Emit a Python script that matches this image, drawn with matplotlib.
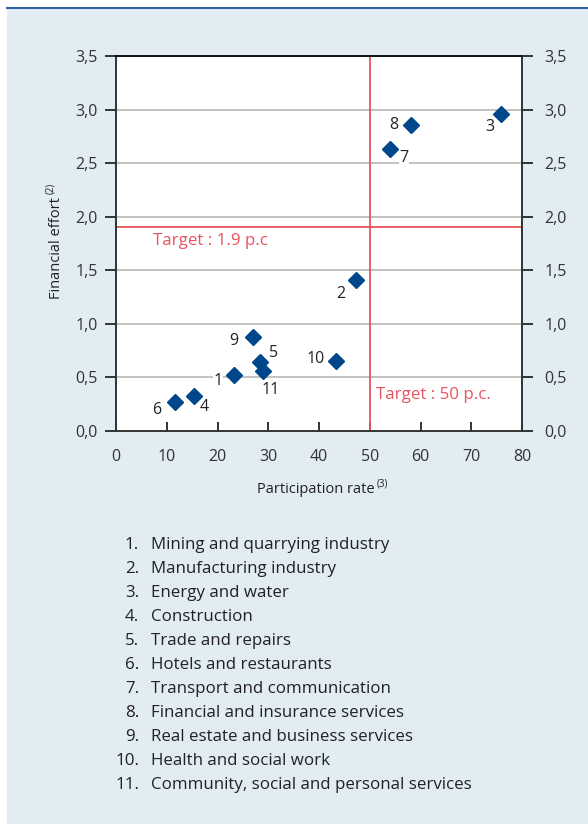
import matplotlib.pyplot as plt
from matplotlib.patches import Rectangle
from matplotlib.lines import Line2D

plt.rcParams['font.family'] = ['Open Sans', 'DejaVu Sans']

# sectors: participation rate (%) vs financial effort (%)
sector_ids = ['1', '2', '3', '4', '5', '6', '7', '8', '9', '10', '11']
participation = [23.3, 47.2, 75.9, 15.4, 28.4, 11.7, 54.0, 58.1, 26.9, 43.3, 29.0]
effort = [0.52, 1.41, 2.96, 0.33, 0.64, 0.27, 2.63, 2.86, 0.88, 0.65, 0.56]
sector_names = ['Mining and quarrying industry', 'Manufacturing industry',
                'Energy and water', 'Construction', 'Trade and repairs',
                'Hotels and restaurants', 'Transport and communication',
                'Financial and insurance services', 'Real estate and business services',
                'Health and social work', 'Community, social and personal services']
target_effort = 1.9
target_participation = 50

# label offsets in pixels (dx, dy)
label_offsets = [(-16, -6), (-15, -14), (-11, -13), (10, -11), (13, 9), (-19, -8),
                 (14, -9), (-17, 0), (-19, -4), (-20, 2), (7, -19)]

fig = plt.figure(figsize=(5.88, 8.24), dpi=100)
fig.patch.set_facecolor('white')
fig.patches.append(Rectangle((7 / 588, 0), 1, 815 / 824, transform=fig.transFigure,
                             facecolor='#E1ECF3', edgecolor='none', zorder=-2))
fig.lines.append(Line2D([7 / 588, 1], [816 / 824, 816 / 824], transform=fig.transFigure,
                        color='#2F62A0', lw=1.5, zorder=-1))

ax = fig.add_axes([116 / 588, 1 - 431 / 824, 406 / 588, 375 / 824])
ax.set_facecolor('white')
ax.set_xlim(0, 80)
ax.set_ylim(0, 3.5)

yt = [0, 0.5, 1, 1.5, 2, 2.5, 3, 3.5]
ylabels = [('%.1f' % v).replace('.', ',') for v in yt]
ax.set_yticks(yt)
ax.set_yticklabels(ylabels)
ax.set_xticks(range(0, 90, 10))
for v in yt[1:-1]:
    ax.axhline(v, color='#BDBDBD', lw=1.3, zorder=1)

ax.tick_params(axis='y', direction='out', length=8, width=1.4, color='#333333',
               labelsize=11.5, labelcolor='#333333', pad=5)
ax.tick_params(axis='x', direction='in', length=6.5, width=1.4, color='#333333',
               labelsize=11.5, labelcolor='#333333', pad=13)
for s in ax.spines.values():
    s.set_color('#333333')
    s.set_linewidth(1.4)
ax.spines['top'].set_color('#111111')

# right-hand axis copy
ax2 = ax.twinx()
ax2.set_ylim(0, 3.5)
ax2.set_yticks(yt)
ax2.set_yticklabels(ylabels)
ax2.tick_params(axis='y', direction='out', length=8, width=1.4, color='#333333',
                labelsize=11.5, labelcolor='#333333', pad=8)
for s in ax2.spines.values():
    s.set_visible(False)

ax.axhline(target_effort, color='#E8535E', lw=1.3, zorder=2)
ax.axvline(target_participation, color='#E8535E', lw=1.3, zorder=2)
ax.text(7.3, 1.775, 'Target : 1.9 p.c', color='#E8535E', fontsize=12.2, va='center', ha='left')
ax.text(51.2, 0.34, 'Target : 50 p.c.', color='#E8535E', fontsize=12.2, va='center', ha='left')

ax.plot(participation, effort, 'D', color='#00468B', markersize=7.8, zorder=4, ls='none')
for sid, px, py, off in zip(sector_ids, participation, effort, label_offsets):
    ax.annotate(sid, (px, py), xytext=(off[0], off[1]), textcoords='offset pixels',
                ha='center', va='center', fontsize=11.5, color='#222222', zorder=3,
                bbox=dict(facecolor='white', edgecolor='none', pad=0.5))

# axis titles with superscript notes
fig.text(316 / 588, 1 - 490 / 824, 'Participation rate', fontsize=10.5, color='#222222',
         ha='center', va='center')
fig.text(377 / 588, 1 - 484 / 824, '(3)', fontsize=7, color='#222222', ha='left', va='center')
fig.text(56 / 588, 1 - 248 / 824, 'Financial effort', fontsize=10.5, color='#222222',
         ha='center', va='center', rotation=90)
fig.text(51 / 588, 1 - 188 / 824, '(2)', fontsize=7, color='#222222', ha='center',
         va='center', rotation=90)

# sector list
for i, (sid, name) in enumerate(zip(sector_ids, sector_names)):
    y = 1 - (545 + 24 * i) / 824
    fig.text(139 / 588, y, sid + '.', fontsize=12.2, color='#222222', ha='right', va='center')
    fig.text(151 / 588, y, name, fontsize=12.2, color='#222222', ha='left', va='center')

fig.savefig('out.png', dpi=100, facecolor=fig.get_facecolor())
